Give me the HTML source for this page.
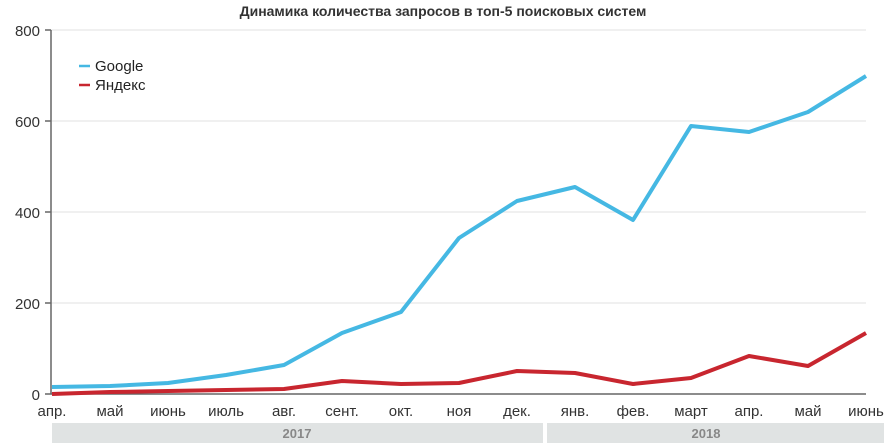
<!DOCTYPE html>
<html><head><meta charset="utf-8"><style>
body{margin:0;background:#fff;}
svg{display:block;font-family:"Liberation Sans",sans-serif;}
</style></head><body>
<svg width="886" height="443" viewBox="0 0 886 443">
<text x="443" y="16" text-anchor="middle" font-size="14" font-weight="bold" fill="#333">Динамика количества запросов в топ-5 поисковых систем</text>
<g stroke="#ececec" stroke-width="1.5">
<line x1="51" y1="30" x2="866" y2="30"/><line x1="51" y1="121" x2="866" y2="121"/><line x1="51" y1="212" x2="866" y2="212"/><line x1="51" y1="303" x2="866" y2="303"/>
</g>
<g stroke="#666" stroke-width="1.5">
<line x1="51" y1="30" x2="51" y2="394"/><line x1="45" y1="30" x2="51" y2="30"/><line x1="45" y1="121" x2="51" y2="121"/><line x1="45" y1="212" x2="51" y2="212"/><line x1="45" y1="303" x2="51" y2="303"/>
<line x1="45" y1="394" x2="866" y2="394"/>
</g>
<g font-size="15" fill="#333" text-anchor="end">
<text x="40" y="36">800</text><text x="40" y="127">600</text><text x="40" y="218">400</text><text x="40" y="309">200</text><text x="40" y="400">0</text>
</g>
<g font-size="15" fill="#333" text-anchor="middle">
<text x="52" y="416">апр.</text><text x="110" y="416">май</text><text x="168" y="416">июнь</text><text x="226" y="416">июль</text><text x="284" y="416">авг.</text><text x="342" y="416">сент.</text><text x="401" y="416">окт.</text><text x="459" y="416">ноя</text><text x="517" y="416">дек.</text><text x="575" y="416">янв.</text><text x="633" y="416">фев.</text><text x="691" y="416">март</text><text x="749" y="416">апр.</text><text x="808" y="416">май</text><text x="866" y="416">июнь</text>
</g>
<rect x="52" y="423" width="491" height="20" fill="#e0e3e3"/>
<rect x="547" y="423" width="337" height="20" fill="#e0e3e3"/>
<text x="297" y="438" text-anchor="middle" font-size="13" font-weight="bold" fill="#888">2017</text>
<text x="706" y="438" text-anchor="middle" font-size="13" font-weight="bold" fill="#888">2018</text>
<polyline fill="none" stroke="#45b8e3" stroke-width="4" stroke-linejoin="round" points="52,387 110,386 168,383 226,375 284,365 342,333 401,312 459,238 517,201 575,187 633,220 691,126 749,132 808,112 866,76"/>
<polyline fill="none" stroke="#c8262f" stroke-width="4" stroke-linejoin="round" points="52,394 110,392 168,391 226,390 284,389 342,381 401,384 459,383 517,371 575,373 633,384 691,378 749,356 808,366 866,333"/>
<line x1="79" y1="66" x2="90" y2="66" stroke="#45b8e3" stroke-width="2.5"/>
<line x1="79" y1="85" x2="90" y2="85" stroke="#c8262f" stroke-width="2.5"/>
<text x="95" y="71" font-size="15" fill="#222">Google</text>
<text x="95" y="90" font-size="15" fill="#222">Яндекс</text>
</svg>
</body></html>
